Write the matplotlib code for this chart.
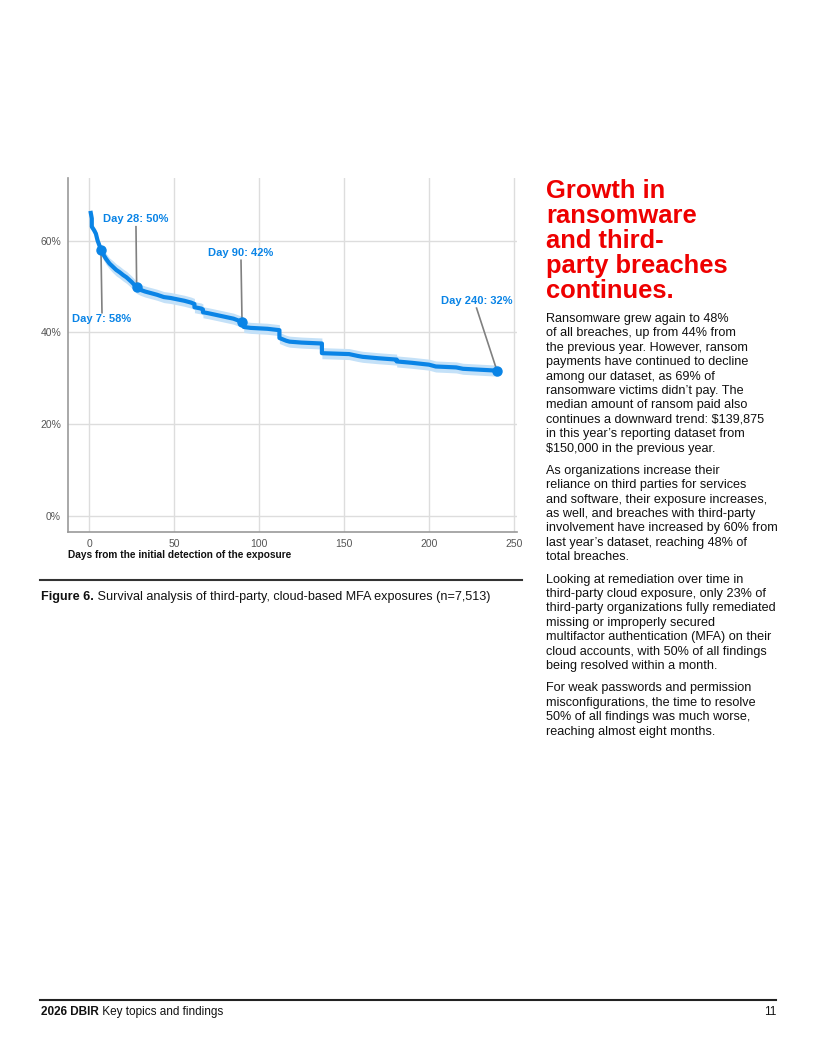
import matplotlib
matplotlib.use("Agg")
import matplotlib.pyplot as plt
import numpy as np

# Survival curve (share of exposures still open, %); repeated days are drops
days = [1, 1.6, 1.6, 3, 4, 5, 6, 7, 8, 10, 12, 14, 16, 18, 20, 22, 25, 28,
        30, 33, 36, 40, 44, 48, 52, 56, 60, 62, 62, 66, 67, 67, 70, 75, 80, 85,
        90, 91, 91, 95, 100, 105, 112, 112, 116, 118, 125, 137, 137, 145, 153,
        158, 161, 170, 181, 181, 190, 200, 204, 210, 216, 220, 230, 240]
survival = [66.0, 64.8, 63.0, 62.2, 61.5, 60.0, 59.0, 58.0, 57.2, 56.0, 55.0,
            54.3, 53.6, 53.1, 52.5, 52.0, 51.0, 49.8, 49.3, 48.9, 48.6, 48.2,
            47.7, 47.5, 47.2, 46.9, 46.5, 46.2, 45.5, 45.2, 45.0, 44.4, 44.2,
            43.8, 43.4, 43.0, 42.3, 42.1, 41.2, 41.0, 40.9, 40.8, 40.5, 38.8,
            38.2, 38.0, 37.8, 37.6, 35.5, 35.4, 35.3, 34.9, 34.7, 34.4, 34.1,
            33.7, 33.4, 33.0, 32.6, 32.5, 32.4, 32.1, 31.9, 31.7]
# half width of the confidence band, %
ci_half = [0.6, 0.7, 0.8, 0.8, 0.9, 0.9, 1.0, 1.0, 1.1, 1.2, 1.2,
           1.3, 1.3, 1.3, 1.3, 1.3, 1.3, 1.3, 1.2, 1.2, 1.2, 1.2,
           1.2, 1.2, 1.2, 1.2, 1.2, 1.2, 1.2, 1.2, 1.2, 1.2, 1.2,
           1.2, 1.2, 1.2, 1.2, 1.2, 1.2, 1.2, 1.2, 1.2, 1.2, 1.2,
           1.2, 1.2, 1.2, 1.2, 1.2, 1.2, 1.2, 1.2, 1.2, 1.2, 1.2,
           1.2, 1.2, 1.2, 1.2, 1.2, 1.2, 1.2, 1.2, 1.2]

marked_days = [7, 28, 90, 240]
marked_labels = ["Day 7: 58%", "Day 28: 50%", "Day 90: 42%", "Day 240: 32%"]

x_ticks = [0, 50, 100, 150, 200, 250]
y_ticks = [0, 20, 40, 60]

title_lines = ["Growth in", "ransomware", "and third-", "party breaches", "continues."]
paragraphs = [
    ["Ransomware grew again to 48%",
     "of all breaches, up from 44% from",
     "the previous year. However, ransom",
     "payments have continued to decline",
     "among our dataset, as 69% of",
     "ransomware victims didn\u2019t pay. The",
     "median amount of ransom paid also",
     "continues a downward trend: $139,875",
     "in this year\u2019s reporting dataset from",
     "$150,000 in the previous year."],
    ["As organizations increase their",
     "reliance on third parties for services",
     "and software, their exposure increases,",
     "as well, and breaches with third-party",
     "involvement have increased by 60% from",
     "last year\u2019s dataset, reaching 48% of",
     "total breaches."],
    ["Looking at remediation over time in",
     "third-party cloud exposure, only 23% of",
     "third-party organizations fully remediated",
     "missing or improperly secured",
     "multifactor authentication (MFA) on their",
     "cloud accounts, with 50% of all findings",
     "being resolved within a month."],
    ["For weak passwords and permission",
     "misconfigurations, the time to resolve",
     "50% of all findings was much worse,",
     "reaching almost eight months."],
]

BLUE = "#0a84e6"
BAND = "#c4e1f8"
RED = "#ee0000"
W, H = 816, 1056

plt.rcParams["font.family"] = ["Liberation Sans", "DejaVu Sans"]

fig = plt.figure(figsize=(W / 100, H / 100), dpi=100)


def fx(x):
    return x / W


def fy(y):
    return 1 - y / H


def run_text(x, y, parts, size):
    # draws bold/normal pieces one after another on a baseline
    r = fig.canvas.get_renderer()
    for s, weight in parts:
        t = fig.text(fx(x), fy(y), s, fontsize=size, fontweight=weight,
                     va="baseline", ha="left", color="#111111")
        bb = t.get_window_extent(renderer=r)
        x += bb.width


# --- chart ---
ax = fig.add_axes([fx(68), fy(532), fx(517) - fx(68), fy(178) - fy(532)])
d = np.array(days)
s = np.array(survival)
c = np.array(ci_half)
ax.fill_between(d, s - c, s + c, color=BAND, lw=0, zorder=2)
ax.plot(d, s, color=BLUE, lw=3, zorder=3)
mk = [survival[days.index(v)] for v in marked_days]
ax.plot(marked_days, mk, "o", color=BLUE, ms=6.5, zorder=4)

ax.set_xlim(-12.4, 251.8)
ax.set_ylim(-3.4, 73.6)
ax.set_xticks(x_ticks)
ax.set_yticks(y_ticks)
ax.set_yticklabels([f"{v}%" for v in y_ticks])
ax.grid(True, color="#dddddd", lw=1)
ax.set_axisbelow(True)
ax.tick_params(length=0, labelsize=7.5, labelcolor="#555555")
ax.tick_params(axis="y", pad=5)
ax.tick_params(axis="x", pad=5)
for side in ["top", "right"]:
    ax.spines[side].set_visible(False)
for side in ["left", "bottom"]:
    ax.spines[side].set_color("#999999")
    ax.spines[side].set_linewidth(1.2)

# annotations: text position, leader start
ann_pos = [((7.6, 42.9), (7.6, 44.3)),
           ((27.6, 64.6), (27.6, 63.0)),
           ((89.4, 57.3), (89.4, 55.7)),
           ((228.0, 46.8), (228.0, 45.3))]
for (lab, dx, dy), ((tx, ty), (lx, ly)) in zip(zip(marked_labels, marked_days, mk), ann_pos):
    ax.plot([lx, dx], [ly, dy], color="#808080", lw=1.2, zorder=3.5)
    ax.text(tx, ty, lab, color=BLUE, fontsize=8, fontweight="bold",
            ha="center", va="center", zorder=5)

fig.text(fx(68), fy(558), "Days from the initial detection of the exposure",
         fontsize=7.3, fontweight="bold", va="baseline", color="#111111")

# caption
fig.add_artist(plt.Line2D([fx(40), fx(522)], [fy(580), fy(580)],
                          color="#333333", lw=1.5))
run_text(41, 600, [("Figure 6.", "bold"),
                   (" Survival analysis of third-party, cloud-based MFA exposures (n=7,513)", "normal")],
         9.05)

# --- right column ---
for i, line in enumerate(title_lines):
    fig.text(fx(546), fy(198 + i * 25.1), line, fontsize=18.4, fontweight="bold",
             color=RED, va="baseline", ha="left")

base = 322
for p in paragraphs:
    for i, line in enumerate(p):
        fig.text(fx(546), fy(base + i * 14.4), line, fontsize=9.05,
                 color="#111111", va="baseline", ha="left")
    base += (len(p) - 1) * 14.4 + 22.3

# footer
fig.add_artist(plt.Line2D([fx(40), fx(776)], [fy(1000), fy(1000)],
                          color="#222222", lw=1.5))
run_text(41, 1015, [("2026 DBIR", "bold"), (" Key topics and findings", "normal")], 8.5)
fig.text(fx(776), fy(1015), "11", fontsize=8.5, ha="right", va="baseline",
         color="#111111")

fig.savefig("out.png", dpi=100)
